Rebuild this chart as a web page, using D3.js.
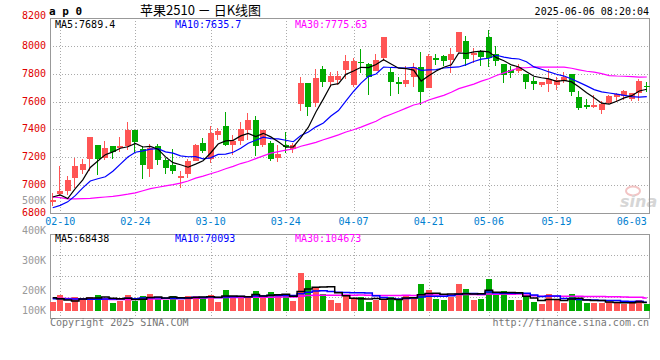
<!DOCTYPE html>
<html><head><meta charset="utf-8">
<script src="https://cdn.jsdelivr.net/npm/d3@7/dist/d3.min.js"></script>
<style>body{margin:0;background:#fff}svg{display:block}</style>
</head><body><svg id="c" width="660" height="360"></svg>
<script>
// ---------------- DATA ----------------
const dates = ["02-07","02-10","02-11","02-12","02-13","02-14","02-17","02-18","02-19","02-20","02-21","02-24","02-25","02-26","02-27","02-28",
"03-03","03-04","03-05","03-06","03-07","03-10","03-11","03-12","03-13","03-14","03-17","03-18","03-19","03-20","03-21","03-24","03-25","03-26","03-27","03-28","03-31",
"04-01","04-02","04-03","04-07","04-08","04-09","04-10","04-11","04-14","04-15","04-16","04-17","04-18","04-21","04-22","04-23","04-24","04-25","04-28","04-29","04-30",
"05-06","05-07","05-08","05-09","05-12","05-13","05-14","05-15","05-16","05-19","05-20","05-21","05-22","05-23","05-26","05-27","05-28","05-29","05-30",
"06-03","06-04","06-05"];
const open  = [6879,6939,6956,7049,7108,7185,7290,7195,7282,7266,7278,7398,7263,7116,7281,7180,7147,7051,7078,7176,7305,7190,7358,7427,7285,7314,7393,7470,7290,7306,7192,7290,7257,7579,7735,7587,7835,7737,7752,7830,7716,7883,7871,7823,7916,7811,7742,7723,7780,7847,7701,7914,7928,7900,7959,8036,7935,7964,8067,7943,7871,7828,7816,7799,7751,7716,7725,7718,7751,7799,7634,7577,7562,7536,7589,7630,7641,7617,7665,7713];
const high  = [6944,7140,7063,7195,7190,7343,7290,7314,7282,7347,7456,7398,7278,7297,7297,7195,7262,7099,7188,7297,7340,7425,7408,7526,7361,7455,7520,7498,7398,7314,7290,7380,7300,7780,7735,7833,7852,7814,7816,7935,7912,7976,7880,7943,8064,7840,7780,7852,7876,7954,7943,7943,7935,7983,8103,8072,7983,7971,8115,8000,7871,7857,7871,7799,7773,7737,7833,7773,7809,7799,7677,7618,7649,7601,7649,7661,7684,7661,7761,7744];
const low   = [6848,6925,6932,6980,7080,7102,7075,7178,7186,7235,7254,7231,7047,7056,7147,7082,7080,6980,7051,7176,7228,7160,7321,7278,7213,7290,7326,7211,7273,7171,7164,7230,7230,7529,7498,7558,7708,7708,7720,7761,7704,7804,7646,7816,7888,7637,7656,7708,7708,7577,7696,7859,7857,7804,7959,7852,7876,7852,7847,7857,7732,7768,7804,7692,7685,7708,7672,7680,7732,7637,7541,7546,7553,7512,7584,7594,7613,7601,7601,7672];
const close = [6896,6961,7039,7140,7153,7343,7190,7268,7241,7282,7398,7307,7142,7264,7180,7121,7099,7068,7176,7290,7243,7377,7391,7285,7314,7400,7470,7278,7398,7186,7226,7274,7286,7735,7560,7771,7744,7785,7785,7892,7892,7876,7773,7900,8064,7737,7725,7756,7847,7672,7928,7895,7888,7940,8096,7907,7952,7919,7912,7888,7792,7804,7845,7744,7725,7737,7761,7756,7780,7672,7551,7558,7577,7584,7641,7653,7677,7658,7751,7704];
const volume = [72000,128000,64000,112000,102000,114000,128000,106000,64000,82000,128000,78000,120000,136000,98000,88000,120000,90000,120000,120000,112000,128000,72000,168000,120000,104000,104000,160000,112000,152000,118000,126000,80000,304000,248000,192000,136000,88000,64000,128000,98000,114000,72000,88000,98000,114000,88000,128000,104000,216000,168000,96000,88000,114000,216000,176000,88000,96000,256000,136000,164000,88000,88000,112000,72000,56000,136000,88000,64000,136000,88000,68000,68000,62000,72000,68000,60000,68000,90000,56000];
// moving averages before enough in-window data exists
const ma5Head  = [6915,6930,6904,6975];
const ma10Head = [6838,6855,6880,6925,6980,7030,7046,7060,7100];
const ma30Head = [6915,6910,6902,6902,6903,6905,6910,6915,6920,6927,6935,6945,6960,6975,6985,6995,7004,7015,7030,7050,7065,7082,7098,7118,7135,7155,7170,7190,7210];
const vma5Head  = [106000,99000,88000,80000];
const vma10Head = [98000,98000,97000,96000,96000,95000,95000,96000,96000];
const vma30Head = [104000,102000,100000,98000,96000,95000,94000,94000,93000,93000,93000,94000,95000,96000,97000,98000,99000,100000,101000,102000,104000,106000,107000,108000,109000,109000,110000,110000,110000];
const priceTicks = [8200,8000,7800,7600,7400,7200,7000,6800];
const volTicks = [500000,400000,300000,200000,100000];
const volTickLabels = ["500K","400K","300K","200K","100K"];
const xLabelDates = ["02-10","02-24","03-10","03-24","04-07","04-21","05-06","05-19","06-03"];
const priceLegend = [{t:"MA5:7689.4",c:"#000"},{t:"MA10:7635.7",c:"#0000ff"},{t:"MA30:7775.63",c:"#ff00ff"}];
const volLegend = [{t:"MA5:68438",c:"#000"},{t:"MA10:70093",c:"#0000ff"},{t:"MA30:104673",c:"#ff00ff"}];
const titleCode = "a p 0";
const titleText = "苹果2510 － 日K线图";
const timeText = "2025-06-06 08:20:04";

// ---------------- CHART ----------------
const svg = d3.select("#c");
const MONO = "'DejaVu Sans Mono', monospace";
const UP = "#ff5555", DOWN = "#00aa00", FRAME = "#999", GRID = "#aaa";
const L = 50, R = 649, PT = 18, PB = 213, VT = 234, VB = 318;

const x = d3.scalePoint().domain(dates).range([52.7, 646.8]);
const y = d3.scaleLinear().domain([6800, 8200]).range([PB, PT]);
const vy = d3.scaleLinear().domain([0, 614000]).range([311, 234.3]);
const vLab = d3.scaleLinear().domain([0, 500000]).range([350.7, 200.7]);

function ma(arr, n, head) {
  return arr.map((_, i) => i < head.length ? head[i] : d3.mean(arr.slice(i - n + 1, i + 1)));
}
const ma5 = ma(close, 5, ma5Head), ma10 = ma(close, 10, ma10Head), ma30 = ma(close, 30, ma30Head);
const vma5 = ma(volume, 5, vma5Head), vma10 = ma(volume, 10, vma10Head), vma30 = ma(volume, 30, vma30Head);

const cr = v => Math.round(v) + 0.5;

// gridlines
const g = svg.append("g").attr("stroke", GRID).attr("stroke-dasharray", "1,2").attr("shape-rendering", "crispEdges");
priceTicks.slice(1, -1).forEach(v => g.append("line").attr("x1", L).attr("x2", R).attr("y1", cr(y(v))).attr("y2", cr(y(v))));
for (let k = 1; k < 4; k++) { const yy = cr(VT + k * (VB - VT) / 4); g.append("line").attr("x1", L).attr("x2", R).attr("y1", yy).attr("y2", yy); }
xLabelDates.slice(0, -1).forEach(d => {
  const xx = cr(x(d));
  g.append("line").attr("x1", xx).attr("x2", xx).attr("y1", PT).attr("y2", PB);
  g.append("line").attr("x1", xx).attr("x2", xx).attr("y1", VT).attr("y2", VB);
});

// watermark
const wm = svg.append("g");
wm.append("ellipse").attr("cx", 633).attr("cy", 191).attr("rx", 7).attr("ry", 4.5).attr("fill", "none").attr("stroke", "#f2c4c4").attr("stroke-width", 2);
wm.append("text").attr("x", 620).attr("y", 207).attr("font-family", "'DejaVu Sans', sans-serif").attr("font-style", "italic").attr("font-weight", "bold").attr("font-size", 16).attr("fill", "#d6d6d6").text("sina");

// frames
const f = svg.append("g").attr("stroke", FRAME).attr("fill", "none").attr("shape-rendering", "crispEdges");
f.append("rect").attr("x", L + 0.5).attr("y", PT + 0.5).attr("width", R - L).attr("height", PB - PT);
f.append("rect").attr("x", L + 0.5).attr("y", VT + 0.5).attr("width", R - L).attr("height", VB - VT);

// candles
const cg = svg.append("g").attr("shape-rendering", "crispEdges");
dates.forEach((d, i) => {
  const r = Math.round(x(d));
  const col = close[i] >= open[i] ? UP : DOWN;
  const yh = Math.round(y(high[i])), yl = Math.round(y(low[i]));
  cg.append("rect").attr("x", r - 1).attr("y", yh).attr("width", 1).attr("height", Math.max(1, yl - yh)).attr("fill", col);
  const yt = Math.round(y(Math.max(open[i], close[i]))), yb = Math.round(y(Math.min(open[i], close[i])));
  cg.append("rect").attr("x", r - 3).attr("y", yt).attr("width", 6).attr("height", Math.max(1, yb - yt)).attr("fill", col);
  // volume bar
  const vt = Math.round(vy(volume[i]));
  cg.append("rect").attr("x", r - 3).attr("y", vt).attr("width", 6).attr("height", Math.round(vy(0)) - vt).attr("fill", col);
});

// price MA lines
const pline = d3.line().x((v, i) => x(dates[i])).y(v => y(v));
[[ma30, "#ff00ff"], [ma10, "#0000ff"], [ma5, "#000"]].forEach(([a, c]) =>
  svg.append("path").attr("d", pline(a)).attr("fill", "none").attr("stroke", c).attr("stroke-width", 1.2));

// volume MA lines
const vline = d3.line().x((v, i) => x(dates[i])).y(v => vy(v)).curve(d3.curveStep);
[[vma30, "#ff00ff"], [vma10, "#0000ff"], [vma5, "#000"]].forEach(([a, c]) =>
  svg.append("path").attr("d", vline(a)).attr("fill", "none").attr("stroke", c).attr("stroke-width", 1.5));

// texts
const T = (xx, yy, s, opt = {}) => svg.append("text").attr("x", xx).attr("y", yy)
  .attr("font-family", opt.ff || MONO).attr("font-size", opt.fs || 10).attr("fill", opt.c || "#000")
  .attr("text-anchor", opt.a || "start").attr("font-weight", opt.fw || "normal").text(s);

priceTicks.forEach((v, k) => T(46, k === 0 ? y(v) + 1 : y(v) + 3, String(v), { c: "#e00000", a: "end" }));
volTicks.forEach((v, k) => T(46, Math.min(vLab(v), 310) + 3.7, volTickLabels[k], { c: "#999", a: "end" }));
xLabelDates.forEach(d => T(x(d), 225, d, { c: "#0080d0", a: "middle" }));

const lx = [55, 175, 295];
priceLegend.forEach((p, k) => T(lx[k], 27.5, p.t, { c: p.c }));
volLegend.forEach((p, k) => T(lx[k], 242, p.t, { c: p.c }));

T(49, 15, titleCode, { fs: 11, fw: "bold" });
T(140, 15, titleText, { ff: "'Noto Sans CJK SC', sans-serif", fs: 13 });
T(649, 15, timeText, { a: "end" });
T(50, 326, "Copyright 2025 SINA.COM", { c: "#777" });
T(649, 326, "http://finance.sina.com.cn", { c: "#777", a: "end" });
</script>
</body></html>
